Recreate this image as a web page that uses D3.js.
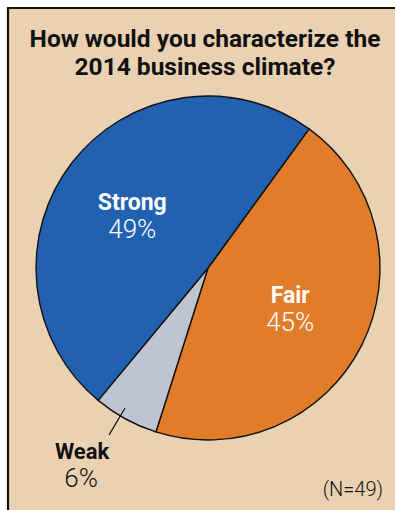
<!DOCTYPE html>
<html lang="en">
    <head>
        <meta charset="UTF-8" />
        <title>2014 business climate</title>
        <style>
            body { margin: 0; padding: 0; background: #fff; }
            svg { display: block; }
        </style>
    </head>
    <body>
        <div id="chart"></div>
        <script src="https://d3js.org/d3.v7.min.js"></script>
        <script>
            const categories = ['Fair', 'Weak', 'Strong'];
            const values = [22, 3, 24];
            const percentLabels = ['45%', '6%', '49%'];
            const colors = ['#e07c2a', '#bec5d0', '#2161b0'];
            const titleLines = ['How would you characterize the', '2014 business climate?'];
            const note = '(N=49)';

            const width = 395, height = 510;
            const cx = 208, cy = 268, r = 172;

            const svg = d3.select('#chart').append('svg').attr('width', width).attr('height', height);

            // beige panel, only left and top edges are visible
            svg.append('rect').attr('x', 0).attr('y', 0).attr('width', width).attr('height', height).attr('fill', '#fff');
            svg.append('rect').attr('x', 8).attr('y', 8).attr('width', width).attr('height', height).attr('fill', '#e9d1b1');
            svg.append('path').attr('d', `M8,${height} V8 H${width}`).attr('fill', 'none').attr('stroke', '#111').attr('stroke-width', 2.2);

            svg.append('g')
                .selectAll('text')
                .data(titleLines)
                .join('text')
                .attr('x', 205)
                .attr('y', (d, i) => 47 + i * 28)
                .attr('text-anchor', 'middle')
                .style('font-family', 'Roboto, sans-serif')
                .style('font-weight', 'bold')
                .style('font-size', '24.5px')
                .attr('fill', '#111')
                .text((d) => d);

            const pie = d3.pie().sort(null).value((d) => d).startAngle((36 * Math.PI) / 180).endAngle((396 * Math.PI) / 180);
            const arcs = pie(values);
            const arc = d3.arc().innerRadius(0).outerRadius(r);

            const g = svg.append('g').attr('transform', `translate(${cx},${cy})`);

            g.selectAll('path')
                .data(arcs)
                .join('path')
                .attr('d', arc)
                .attr('fill', (d, i) => colors[i])
                .attr('stroke', '#111')
                .attr('stroke-width', 1.4)
                .attr('stroke-linejoin', 'round');

            const mid = (d) => (d.startAngle + d.endAngle) / 2;
            const polar = (a, rad) => [Math.sin(a) * rad, -Math.cos(a) * rad];

            // inside labels for big slices
            const labelRadius = [91, 0, 93];
            const labelShift = [-1.4, 0, -2.4];
            [0, 2].forEach((i) => {
                const a = mid(arcs[i]) + (labelShift[i] * Math.PI) / 180;
                const [x, y] = polar(a, labelRadius[i]);
                const t = g.append('text').attr('text-anchor', 'middle').attr('fill', '#fff').style('font-family', 'Roboto, sans-serif');
                t.append('tspan').attr('x', x).attr('y', y - 4).style('font-weight', 'bold').style('font-size', '23px').text(categories[i]);
                t.append('tspan').attr('x', x).attr('y', y + 24).style('font-weight', '300').style('font-size', '26px').text(percentLabels[i]);
            });

            // outside label for the small slice
            const wa = mid(arcs[1]) + (2 * Math.PI) / 180;
            const p1 = polar(wa, 163), p2 = polar(wa, 194);
            g.append('line').attr('x1', p1[0]).attr('y1', p1[1]).attr('x2', p2[0]).attr('y2', p2[1]).attr('stroke', '#111').attr('stroke-width', 1.2);
            const wt = g.append('text').attr('text-anchor', 'middle').attr('fill', '#111').style('font-family', 'Roboto, sans-serif');
            wt.append('tspan').attr('x', p2[0] - 27).attr('y', p2[1] + 24).style('font-weight', 'bold').style('font-size', '22px').text(categories[1]);
            wt.append('tspan').attr('x', p2[0] - 28).attr('y', p2[1] + 52).style('font-weight', '300').style('font-size', '26px').text(percentLabels[1]);

            svg.append('text')
                .attr('x', 383)
                .attr('y', 496)
                .attr('text-anchor', 'end')
                .style('font-family', 'Roboto, sans-serif')
                .style('font-weight', '300')
                .style('font-size', '20px')
                .attr('fill', '#111')
                .text(note);
        </script>
    </body>
</html>
